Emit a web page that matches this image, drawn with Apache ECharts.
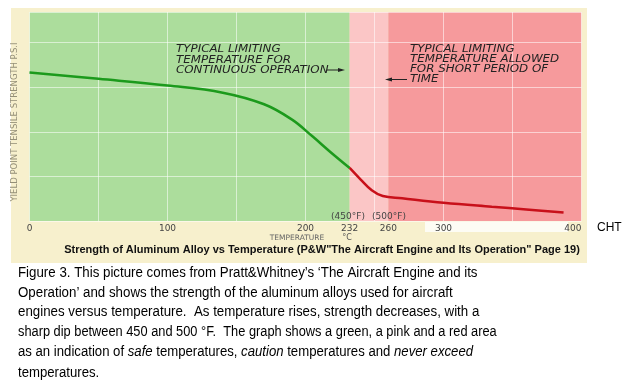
<!DOCTYPE html>
<html><head><meta charset="utf-8">
<script src="https://cdn.jsdelivr.net/npm/echarts@6/dist/echarts.min.js"></script>
<style>html,body{margin:0;padding:0;background:#fff}#c{width:622px;height:390px}</style>
</head><body><div id="c"></div>
<script>
// Data (temperature in °C, strength in arbitrary units, 10 per grid line)
const tempsGreen = [0, 50, 100, 140, 170, 190, 205, 218, 232];
const strengthGreen = [33.3, 31.9, 30.4, 28.8, 26.2, 22.8, 19.0, 15.5, 11.9];
const tempsRed = [232, 240, 248, 256, 270, 300, 335, 360, 387];
const strengthRed = [11.9, 9.3, 6.9, 5.6, 5.1, 4.1, 3.2, 2.6, 1.9];
const tickLabels = [0, 100, 200, 232, 260, 300, 400];
const zoneBounds = [0, 232, 260, 400];
const zoneColors = ['#acdd9c', '#fbc6c6', '#f69a9c'];
const captionLines = [
  "Figure 3. This picture comes from Pratt&Whitney\u2019s \u2018The Aircraft Engine and its",
  "Operation\u2019 and shows the strength of the aluminum alloys used for aircraft",
  "engines versus temperature.  As temperature rises, strength decreases, with a",
  "sharp dip between 450 and 500 \u00b0F.  The graph shows a green, a pink and a red area"
];
const captionScales = [0.95, 0.95, 0.95, 0.915];

const chart = echarts.init(document.getElementById('c'), null, {renderer: 'canvas'});
const capFont = '"Liberation Sans", Arial, sans-serif';
const annFont = '"DejaVu Sans", sans-serif';

const graphics = [
  {type: 'rect', z: -100, shape: {x: 11, y: 8, width: 576, height: 255}, style: {fill: '#f7f0cd'}},
  {type: 'rect', z: -99, shape: {x: 425, y: 222, width: 143, height: 10}, style: {fill: '#fdfcf4'}},
  // y axis title
  {type: 'text', z: 50, x: 15, y: 122, rotation: Math.PI / 2,
   style: {text: 'YIELD POINT TENSILE STRENGTH P.S.I', font: '8.5px ' + annFont, fill: '#948f78', align: 'center', verticalAlign: 'middle'}},
  {type: 'text', z: 50, x: 297, y: 238, style: {text: 'TEMPERATURE', font: '7.5px ' + annFont, fill: '#666', align: 'center', verticalAlign: 'middle'}},
  {type: 'text', z: 50, x: 347, y: 238, style: {text: '\u00b0C', font: '8px ' + annFont, fill: '#555', align: 'center', verticalAlign: 'middle'}},
  {type: 'text', z: 50, x: 348, y: 217, style: {text: '(450\u00b0F)', font: '9px ' + annFont, fill: '#444', align: 'center', verticalAlign: 'middle'}},
  {type: 'text', z: 50, x: 389, y: 217, style: {text: '(500\u00b0F)', font: '9px ' + annFont, fill: '#444', align: 'center', verticalAlign: 'middle'}},
  {type: 'text', z: 50, x: 597, y: 228, style: {text: 'CHT', font: '12px "Liberation Sans", Arial, sans-serif', fill: '#000', align: 'left', verticalAlign: 'middle'}},
  // title
  {type: 'text', z: 50, x: 322, y: 250, style: {text: 'Strength of Aluminum Alloy vs Temperature (P&W"The Aircraft Engine and Its Operation" Page 19)', font: 'bold 11px "Liberation Sans", Arial, sans-serif', fill: '#111', align: 'center', verticalAlign: 'middle'}},
  // annotation 1
  {type: 'text', z: 50, x: 176, y: 44.5, scaleX: 1.13, style: {text: 'TYPICAL LIMITING\nTEMPERATURE FOR\nCONTINUOUS OPERATION', font: 'italic 10.5px ' + annFont, fill: '#222', lineHeight: 10.5, align: 'left', verticalAlign: 'top'}},
  {type: 'line', z: 50, shape: {x1: 327, y1: 70, x2: 342, y2: 70}, style: {stroke: '#222', lineWidth: 1}},
  {type: 'polygon', z: 50, shape: {points: [[345, 70], [338, 68], [338, 72]]}, style: {fill: '#222'}},
  // annotation 2
  {type: 'text', z: 50, x: 410, y: 44.5, scaleX: 1.13, style: {text: 'TYPICAL LIMITING\nTEMPERATURE ALLOWED\nFOR SHORT PERIOD OF\nTIME', font: 'italic 10.5px ' + annFont, fill: '#222', lineHeight: 10, align: 'left', verticalAlign: 'top'}},
  {type: 'line', z: 50, shape: {x1: 388, y1: 79.5, x2: 407, y2: 79.5}, style: {stroke: '#222', lineWidth: 1}},
  {type: 'polygon', z: 50, shape: {points: [[385, 79.5], [392, 77.5], [392, 81.5]]}, style: {fill: '#222'}}
];
captionLines.forEach((t, i) => {
  graphics.push({type: 'text', z: 50, x: 18, y: 273 + i * 19.8, scaleX: captionScales[i],
    style: {text: t, font: '14px ' + capFont, fill: '#000', align: 'left', verticalAlign: 'middle'}});
});
graphics.push({type: 'text', z: 50, x: 18, y: 352.2, scaleX: 0.94, style: {
  text: 'as an indication of {i|safe} temperatures, {i|caution} temperatures and {i|never exceed}',
  font: '14px ' + capFont, fill: '#000', align: 'left', verticalAlign: 'middle',
  rich: {i: {font: 'italic 14px ' + capFont, fill: '#000'}}}});
graphics.push({type: 'text', z: 50, x: 18, y: 373, scaleX: 0.94, style: {text: 'temperatures.', font: '14px ' + capFont, fill: '#000', align: 'left', verticalAlign: 'middle'}});
graphics.push({type: 'rect', z: 60, shape: {x: 0, y: 381, width: 622, height: 9}, style: {fill: '#fff'}});

const areas = [];
for (let i = 0; i < zoneColors.length; i++) {
  areas.push([{xAxis: zoneBounds[i], itemStyle: {color: zoneColors[i]}}, {xAxis: zoneBounds[i + 1]}]);
}

chart.setOption({
  animation: false,
  backgroundColor: '#fff',
  grid: {left: 29.5, right: 40.5, top: 12, bottom: 169, containLabel: false},
  xAxis: {
    type: 'value', min: 0, max: 400, interval: 50, z: 3,
    axisLine: {show: false}, axisTick: {show: false},
    splitLine: {show: true, lineStyle: {color: 'rgba(255,255,255,0.55)', width: 1}},
    axisLabel: {customValues: tickLabels, margin: 3, fontSize: 9, fontFamily: 'DejaVu Sans', color: '#444', alignMaxLabel: 'right'}
  },
  yAxis: {
    type: 'value', min: 0, max: 46.9, interval: 10, z: 3,
    axisLine: {show: false}, axisTick: {show: false}, axisLabel: {show: false},
    splitLine: {show: true, lineStyle: {color: 'rgba(255,255,255,0.55)', width: 1}}
  },
  series: [
    {type: 'line', data: [], z: 1, silent: true, markArea: {silent: true, data: areas}},
    {type: 'line', data: tempsGreen.map((t, i) => [t, strengthGreen[i]]), smooth: 0.4,
     showSymbol: false, lineStyle: {color: '#1c9a1c', width: 2.5}, z: 5},
    {type: 'line', data: tempsRed.map((t, i) => [t, strengthRed[i]]), smooth: 0.4,
     showSymbol: false, lineStyle: {color: '#c8101a', width: 2.5}, z: 5}
  ],
  graphic: graphics
});
</script></body></html>
